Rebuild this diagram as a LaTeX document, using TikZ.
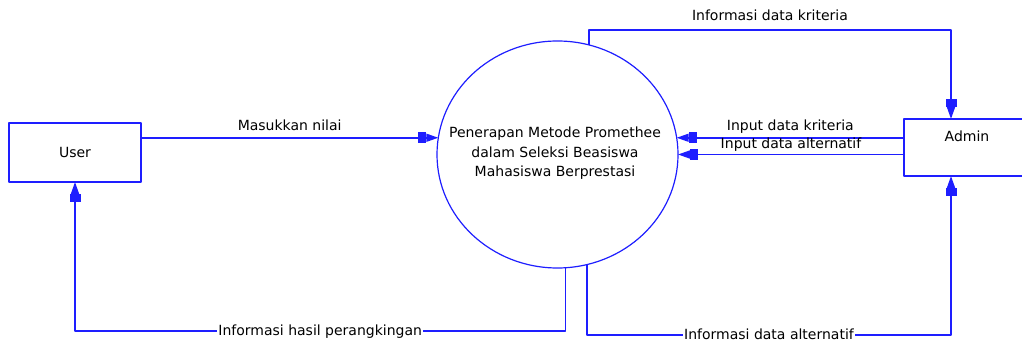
\documentclass[tikz,border=0pt]{standalone}
\usepackage{fontspec}
\setmainfont{DejaVu Sans}
\usepackage{tikz}
\usetikzlibrary{shapes,arrows,arrows.meta,positioning,calc}

\definecolor{dfdblue}{RGB}{30,30,255}

\begin{document}
\begin{tikzpicture}[line join=bevel,
  every node/.style={font=\fontsize{14bp}{19.5bp}\selectfont},
  entity/.style={draw=dfdblue,line width=1.5bp,rectangle,outer sep=0pt,inner sep=0pt},
  process/.style={draw=dfdblue,line width=1.2bp,ellipse,outer sep=0pt,inner sep=0pt},
  flow/.style={draw=dfdblue,line width=1.5bp,-{Rectangle[length=8bp,width=11bp,sep=0pt]Triangle[length=12bp,width=8bp]}},
  lbl/.style={inner sep=1bp,anchor=base},
]
%%
\clip (0bp,0bp) rectangle (1022bp,342bp);
\node (user) at (75bp,189.5bp) [entity,minimum width=132bp,minimum height=59bp] {User};
  \node (proc) at (557.5bp,187.5bp) [process,minimum width=241bp,minimum height=227bp] {};
  \node (proctext) at (555bp,188.5bp) [align=center] {Penerapan Metode Promethee\\dalam Seleksi Beasiswa\\Mahasiswa Berprestasi};
  \node (admin) at (967bp,194.5bp) [entity,minimum width=126bp,minimum height=57bp] {};
  \node (admintext) at (967bp,206bp) {Admin};
  \draw [flow] (user.east |- proc.172.6) -- node[lbl,yshift=7bp] {Masukkan nilai} (proc.172.6);
  \draw [flow] (proc.74) -- ++(0bp,15bp) -| node[lbl,pos=0.25,yshift=9bp] {Informasi data kriteria} ([xshift=-16bp]admin.north);
  \draw [flow] (admin.west |- proc.8.8) -- node[lbl,yshift=7bp] {Input data kriteria} (proc.8.8);
  \draw [flow] (admin.west |- proc.east) -- node[lbl,yshift=6bp] {Input data alternatif} (proc.east);
  \draw [flow] (proc.274.3) -- ++(0bp,-63.3bp) -| node[lbl,pos=0.25,yshift=-4bp,fill=white] {Informasi hasil perangkingan} (user.south);
  \draw [flow] (proc.285.5) -- ++(0bp,-70.7bp) -| node[lbl,pos=0.25,yshift=-4bp,fill=white] {Informasi data alternatif} ([xshift=-16bp]admin.south);
%
\end{tikzpicture}
\end{document}
